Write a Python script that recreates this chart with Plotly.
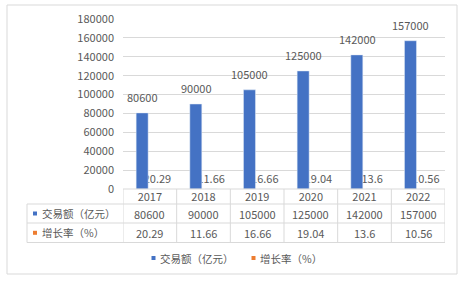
import plotly.graph_objects as go

years = ["2017", "2018", "2019", "2020", "2021", "2022"]
volume = [80600, 90000, 105000, 125000, 142000, 157000]
growth = [20.29, 11.66, 16.66, 19.04, 13.6, 10.56]
series_names = ["交易额（亿元）", "增长率（%）"]
colors = ["#4472C4", "#ED7D31"]
y_ticks = list(range(0, 180001, 20000))

W, H = 464, 281
L, R, T, B = 123, 19, 19, 92
PW, PH = W - L - R, H - T - B
FONT = "Noto Sans CJK SC"
GREY = "#595959"
LINE = "#D9D9D9"


def px(xp):
    return (xp - L) / PW


def py(yp):
    return (H - B - yp) / PH


fig = go.Figure()
# growth first so the blue bars are drawn over its labels
fig.add_trace(go.Bar(
    x=years, y=growth, name=series_names[1], marker_color=colors[1],
    offset=0.03, width=0.2236, text=[str(g) for g in growth],
    textposition="outside", cliponaxis=False, constraintext="none",
    textfont=dict(family=FONT, size=11, color=GREY), showlegend=False,
))
fig.add_trace(go.Bar(
    x=years, y=volume, name=series_names[0], marker_color=colors[0],
    offset=-0.255, width=0.2236, showlegend=False,
))

shapes = []
annotations = []

# value labels over blue bars
for i, v in enumerate(volume):
    annotations.append(dict(x=i, y=v, xref="x", yref="y", text=str(v),
                            showarrow=False, yanchor="bottom", xanchor="center",
                            xshift=-7.5, yshift=6,
                            font=dict(family=FONT, size=11, color=GREY)))

# data table
y_top, y_h, y_r2, y_bot = 189, 204, 223, 242.5
x_left, x_right = 27, W - R
for yp, x0 in [(y_top, L), (y_h, x_left), (y_r2, x_left), (y_bot, x_left)]:
    shapes.append(dict(type="line", xref="paper", yref="paper", x0=px(x0), x1=px(x_right),
                       y0=py(yp), y1=py(yp), line=dict(color=LINE, width=1)))
for k in range(len(years) + 1):
    shapes.append(dict(type="line", xref="x", yref="paper", x0=k - 0.5, x1=k - 0.5,
                       y0=py(y_top), y1=py(y_bot), line=dict(color=LINE, width=1)))
shapes.append(dict(type="line", xref="paper", yref="paper", x0=px(x_left), x1=px(x_left),
                   y0=py(y_h), y1=py(y_bot), line=dict(color=LINE, width=1)))

rows = [volume, growth]
row_centers = [213.5, 232.8]
for r, (vals, yc) in enumerate(zip(rows, row_centers)):
    shapes.append(dict(type="rect", xref="paper", yref="paper", x0=px(33), x1=px(37),
                       y0=py(yc + 2), y1=py(yc - 2), fillcolor=colors[r], line=dict(width=0)))
    annotations.append(dict(x=px(39.5), y=py(yc), xref="paper", yref="paper",
                            text=series_names[r], showarrow=False,
                            xanchor="left", yanchor="middle",
                            font=dict(family=FONT, size=10.5, color=GREY)))
    for i, v in enumerate(vals):
        annotations.append(dict(x=i, y=py(yc), xref="x", yref="paper", text=str(v),
                                showarrow=False, xanchor="center", yanchor="middle",
                                font=dict(family=FONT, size=11, color=GREY)))

# legend
for r, (sx, ly) in enumerate([(151.5, 258), (251.5, 258)]):
    shapes.append(dict(type="rect", xref="paper", yref="paper", x0=px(sx), x1=px(sx + 4),
                       y0=py(ly + 2), y1=py(ly - 2), fillcolor=colors[r], line=dict(width=0)))
    annotations.append(dict(x=px(sx + 6), y=py(ly), xref="paper", yref="paper",
                            text=series_names[r], showarrow=False,
                            xanchor="left", yanchor="middle",
                            font=dict(family=FONT, size=10.5, color=GREY)))

# outer border
shapes.append(dict(type="rect", xref="paper", yref="paper", x0=px(7), x1=px(457),
                   y0=py(274), y1=py(5), line=dict(color=LINE, width=1), layer="below"))

fig.update_layout(
    width=W, height=H, margin=dict(l=L, r=R, t=T, b=B, autoexpand=False),
    paper_bgcolor="white", plot_bgcolor="white",
    barmode="overlay", shapes=shapes, annotations=annotations,
    font=dict(family=FONT, size=11, color=GREY),
)
fig.update_xaxes(type="category", showgrid=False, showline=False, zeroline=False,
                 ticks="", tickfont=dict(family=FONT, size=11, color=GREY),
                 range=[-0.5, 5.5])
fig.update_yaxes(range=[0, 180000], tickvals=y_ticks, ticktext=[str(t) for t in y_ticks],
                 showgrid=True, gridcolor=LINE,
                 zeroline=False, showline=False, ticks="", ticklabelstandoff=8,
                 tickfont=dict(family=FONT, size=11, color=GREY))

fig.write_html("out.html")
